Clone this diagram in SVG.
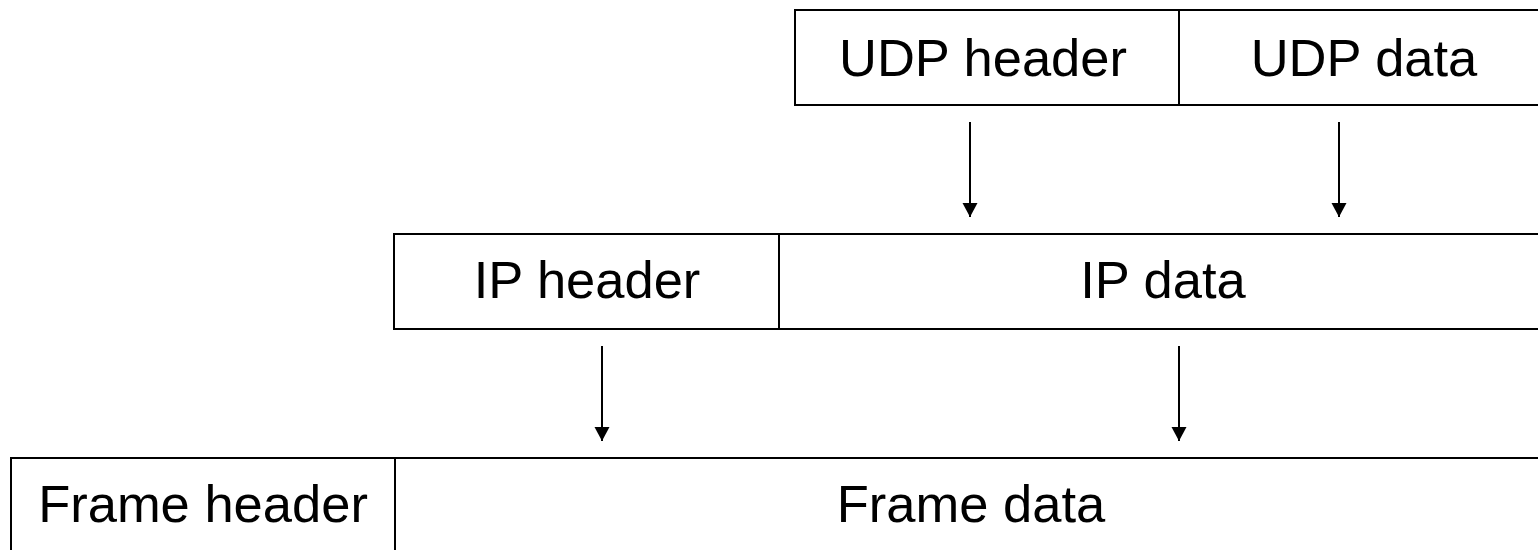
<svg xmlns="http://www.w3.org/2000/svg" width="1538" height="550" viewBox="0 0 1538 550">
<defs>
<style>
.box{fill:#fff;stroke:#000;stroke-width:2}
.div{stroke:#000;stroke-width:2}
.lbl{font-family:"Liberation Sans",Arial,sans-serif;font-size:52.5px;fill:#000;text-anchor:middle}
.con{stroke:#000;stroke-width:2;fill:none;marker-end:url(#ah)}
</style>
<marker id="ah" markerUnits="userSpaceOnUse" markerWidth="16" markerHeight="16" viewBox="0 0 16 16" refX="8" refY="15" orient="0">
<path d="M0.5,1 L15.5,1 L8,15 Z" fill="#000"/>
</marker>
</defs>
<rect width="1538" height="550" fill="#fff"/>
<g id="udp">
<rect class="box" x="795" y="10" width="760" height="95"/>
<line class="div" x1="1179" y1="10" x2="1179" y2="105"/>
<g id="udp-header"><text class="lbl" x="983" y="76">UDP header</text></g>
<g id="udp-data"><text class="lbl" x="1364" y="76">UDP data</text></g>
</g>
<g id="ip">
<rect class="box" x="394" y="234" width="1160" height="95"/>
<line class="div" x1="779" y1="234" x2="779" y2="329"/>
<g id="ip-header"><text class="lbl" x="587" y="298">IP header</text></g>
<g id="ip-data"><text class="lbl" x="1163" y="298">IP data</text></g>
</g>
<g id="frame">
<rect class="box" x="11" y="458" width="1540" height="110"/>
<line class="div" x1="395" y1="458" x2="395" y2="560"/>
<g id="frame-header"><text class="lbl" x="203" y="522">Frame header</text></g>
<g id="frame-data"><text class="lbl" x="971" y="522">Frame data</text></g>
</g>
<g id="connectors">
<line class="con" x1="970" y1="122" x2="970" y2="217"/>
<line class="con" x1="1339" y1="122" x2="1339" y2="217"/>
<line class="con" x1="602" y1="346" x2="602" y2="441"/>
<line class="con" x1="1179" y1="346" x2="1179" y2="441"/>
</g>
</svg>
